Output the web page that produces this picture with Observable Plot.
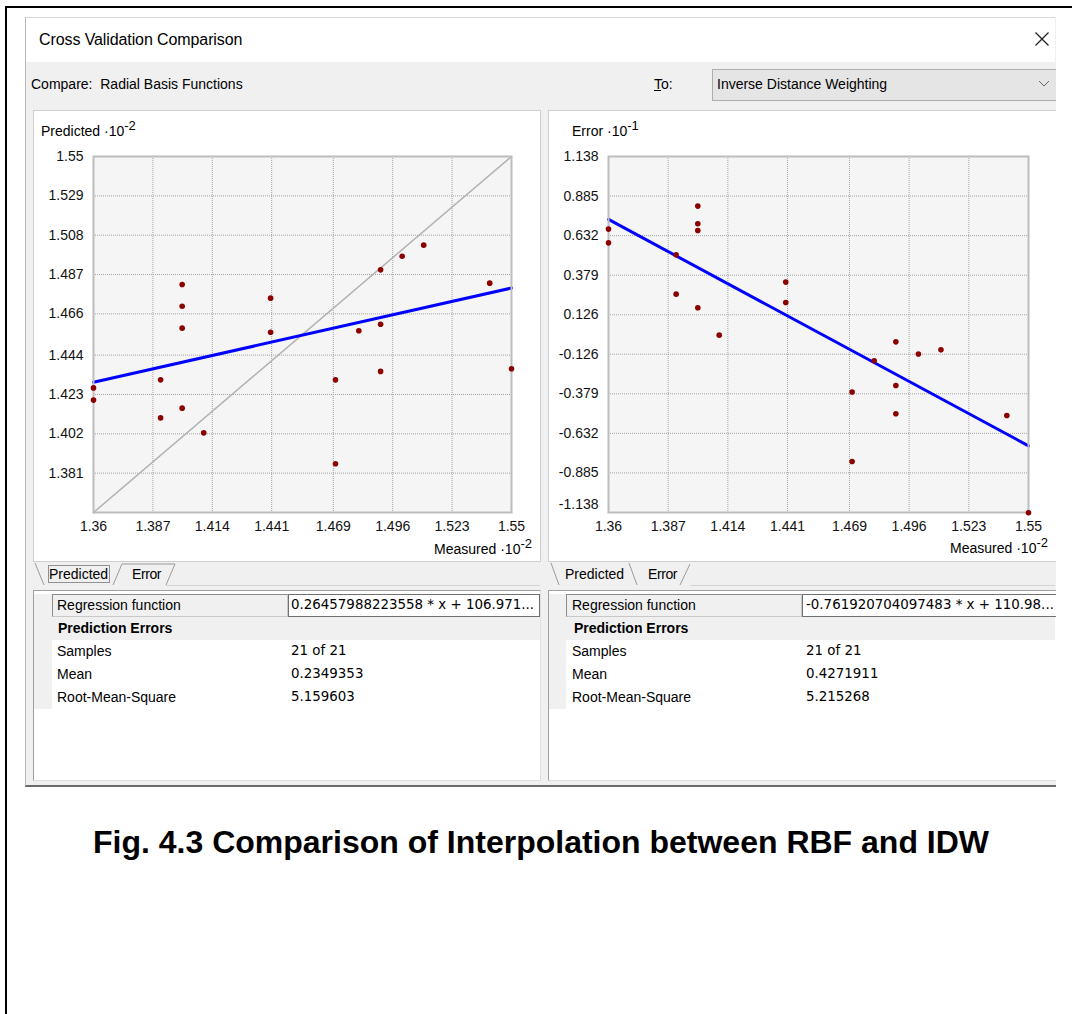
<!DOCTYPE html>
<html>
<head>
<meta charset="utf-8">
<script src="https://cdn.jsdelivr.net/npm/d3@7"></script>
<script src="https://cdn.jsdelivr.net/npm/@observablehq/plot@0.6"></script>
<style>
  body { margin: 0; background: #fff; font-family: "Liberation Sans", Arial, sans-serif; color: #000; }
  #page { position: relative; width: 1072px; height: 1014px; overflow: hidden; }
  .a { position: absolute; white-space: nowrap; }
  .ui { font-size: 14px; line-height: 16px; }
  .val { font-family: "DejaVu Sans", Verdana, sans-serif; font-size: 13.4px; line-height: 16px; }
  sup { font-size: 13px; vertical-align: 0; position: relative; top: -6px; }
</style>
</head>
<body>
<div id="page">
  <!-- outer figure border -->
  <div class="a" style="left:5px;top:6px;width:1100px;height:1100px;border-left:2px solid #000;border-top:2px solid #000;"></div>

  <!-- dialog -->
  <div class="a" style="left:25px;top:17px;width:1030px;height:768px;background:#f0f0f0;border-left:1px solid #b8b8b8;border-bottom:2px solid #6a6a6a;"></div>
  <div class="a" style="left:26px;top:17px;width:1029px;height:44px;background:#fff;border-top:1px solid #d8d8d8;"></div>
  <div class="a" style="left:39px;top:31px;font-size:16px;line-height:18px;letter-spacing:-0.1px;">Cross Validation Comparison</div>
  <svg class="a" style="left:1034px;top:31px;" width="16" height="16"><path d="M1.5,1.5 L14.5,14.5 M14.5,1.5 L1.5,14.5" stroke="#222" stroke-width="1.3"/></svg>

  <div class="a ui" style="left:31px;top:76px;">Compare:&nbsp; Radial Basis Functions</div>
  <div class="a ui" style="left:654px;top:76px;"><u>T</u>o:</div>
  <div class="a" style="left:712px;top:69px;width:350px;height:30px;background:#e5e5e5;border:1px solid #adadad;"></div>
  <div class="a ui" style="left:717px;top:76px;">Inverse Distance Weighting</div>
  <svg class="a" style="left:1038px;top:79px;" width="12" height="10"><path d="M1,2 L6,7 L11,2" fill="none" stroke="#666" stroke-width="1"/></svg>

  <!-- left panel -->
  <div class="a" style="left:33px;top:110px;width:506px;height:450px;background:#fff;border:1px solid #cfcfcf;"></div>
  <div id="plotL" class="a" style="left:33px;top:110px;"></div>
  <div class="a ui" style="left:41px;top:123px;">Predicted ·10<sup>-2</sup></div>
  <div class="a ui" style="left:380px;width:152px;text-align:right;top:541px;">Measured ·10<sup>-2</sup></div>

  <!-- right panel -->
  <div class="a" style="left:548px;top:110px;width:520px;height:450px;background:#fff;border:1px solid #cfcfcf;"></div>
  <div id="plotR" class="a" style="left:548px;top:110px;"></div>
  <div class="a ui" style="left:572px;top:123px;">Error ·10<sup>-1</sup></div>
  <div class="a ui" style="left:896px;width:152px;text-align:right;top:540px;">Measured ·10<sup>-2</sup></div>

  <!-- tab strips -->
  <svg class="a" style="left:0;top:0;" width="1072" height="600">
    <g fill="none" stroke="#9a9a9a" stroke-width="1">
      <path d="M35,563 L44,585"/>
      <path d="M113,585 L122,564 L175,564 L166,585"/>
      <path d="M166,585.5 L540,585.5" stroke="#d4d4d4"/>
      <path d="M551,563 L559,585"/>
      <path d="M629,563 L637,585"/>
      <path d="M680,585 L690,564"/>
      <path d="M690,585.5 L1055,585.5" stroke="#d4d4d4"/>
    </g>
    <rect x="48.5" y="565.5" width="61" height="17" fill="none" stroke="#333" stroke-dasharray="1,1"/>
    <g font-family="Liberation Sans, Arial, sans-serif" font-size="14" fill="#000">
      <text x="49" y="579">Predicted</text>
      <text x="132" y="579" letter-spacing="-0.4">Error</text>
      <text x="565" y="579">Predicted</text>
      <text x="648" y="579" letter-spacing="-0.4">Error</text>
    </g>
  </svg>

  <!-- left table -->
  <div class="a" style="left:33px;top:590px;width:506px;height:189px;background:#fff;border:1px solid #a0a0a0;border-right-color:#e0e0e0;border-bottom-color:#e0e0e0;"></div>
  <div class="a" style="left:34px;top:594px;width:18px;height:115px;background:#f0f0f0;"></div>
  <div class="a" style="left:52px;top:594px;width:234px;height:21px;background:#f0f0f0;border:1px solid #8c8c8c;border-right-color:#c8c8c8;border-bottom-color:#c8c8c8;"></div>
  <div class="a" style="left:288px;top:594px;width:250px;height:21px;background:#fff;border:1px solid #707070;"></div>
  <div class="a" style="left:52px;top:617px;width:488px;height:23px;background:#f0f0f0;"></div>
  <div class="a ui" style="left:57px;top:597px;">Regression function</div>
  <div class="a val" style="left:291px;top:597px;">0.26457988223558 * x + 106.971...</div>
  <div class="a ui" style="left:58px;top:620px;font-weight:bold;">Prediction Errors</div>
  <div class="a ui" style="left:57px;top:643px;">Samples</div>
  <div class="a val" style="left:291px;top:643px;">21 of 21</div>
  <div class="a ui" style="left:57px;top:666px;">Mean</div>
  <div class="a val" style="left:291px;top:666px;">0.2349353</div>
  <div class="a ui" style="left:57px;top:689px;">Root-Mean-Square</div>
  <div class="a val" style="left:291px;top:689px;">5.159603</div>

  <!-- right table -->
  <div class="a" style="left:548px;top:590px;width:520px;height:189px;background:#fff;border:1px solid #a0a0a0;border-bottom-color:#e0e0e0;"></div>
  <div class="a" style="left:549px;top:594px;width:17px;height:115px;background:#f0f0f0;"></div>
  <div class="a" style="left:566px;top:594px;width:234px;height:21px;background:#f0f0f0;border:1px solid #8c8c8c;border-right-color:#c8c8c8;border-bottom-color:#c8c8c8;"></div>
  <div class="a" style="left:802px;top:594px;width:260px;height:21px;background:#fff;border:1px solid #707070;"></div>
  <div class="a" style="left:566px;top:617px;width:489px;height:23px;background:#f0f0f0;"></div>
  <div class="a ui" style="left:572px;top:597px;">Regression function</div>
  <div class="a val" style="left:806px;top:597px;">-0.761920704097483 * x + 110.98...</div>
  <div class="a ui" style="left:574px;top:620px;font-weight:bold;">Prediction Errors</div>
  <div class="a ui" style="left:572px;top:643px;">Samples</div>
  <div class="a val" style="left:806px;top:643px;">21 of 21</div>
  <div class="a ui" style="left:572px;top:666px;">Mean</div>
  <div class="a val" style="left:806px;top:666px;">0.4271911</div>
  <div class="a ui" style="left:572px;top:689px;">Root-Mean-Square</div>
  <div class="a val" style="left:806px;top:689px;">5.215268</div>

  <!-- cut the screenshot at its right edge -->
  <div class="a" style="left:1056px;top:8px;width:20px;height:790px;background:#fff;"></div>

  <!-- caption -->
  <div class="a" style="left:0;width:1082px;text-align:center;top:824px;font-size:32px;line-height:36px;font-weight:bold;">Fig. 4.3 Comparison of Interpolation between RBF and IDW</div>
</div>

<script>
// ---- data ----
const measured = [1.36, 1.36, 1.3905, 1.3905, 1.4003, 1.4003, 1.4003, 1.4003, 1.4101, 1.4405, 1.4405,
                  1.47, 1.47, 1.4806, 1.4905, 1.4905, 1.4905, 1.5003, 1.5101, 1.5401, 1.55];
const rbfPredicted = [1.4265, 1.4200, 1.4308, 1.4105, 1.4817, 1.4701, 1.4584, 1.4157, 1.4025, 1.4744, 1.4562,
                      1.4308, 1.3860, 1.4570, 1.4895, 1.4605, 1.4353, 1.4968, 1.5027, 1.4824, 1.4367];
const idwMeasured = [1.36, 1.36, 1.3906, 1.3906, 1.4004, 1.4004, 1.4004, 1.4004, 1.4101, 1.4402, 1.4402,
                     1.4702, 1.4702, 1.4802, 1.49, 1.49, 1.49, 1.5002, 1.5104, 1.5402, 1.55];
const idwError = [0.674, 0.586, 0.510, 0.258, 0.821, 0.708, 0.665, 0.171, -0.004, 0.335, 0.205,
                  -0.368, -0.812, -0.168, -0.047, -0.326, -0.507, -0.125, -0.098, -0.518, -1.140];

const xTicks = [1.36, 1.387, 1.414, 1.441, 1.469, 1.496, 1.523, 1.55];
const predTicks = [1.55, 1.529, 1.508, 1.487, 1.466, 1.444, 1.423, 1.402, 1.381];
const errTicks = [1.138, 0.885, 0.632, 0.379, 0.126, -0.126, -0.379, -0.632, -0.885];
const errBottomTick = [-1.138];

const xDomain = [1.36, 1.55];
const predDomain = [1.36, 1.55];
const errDomain = [-1.138, 1.138];

// regression functions shown in the tables (x in measured units ×10^2)
const rbfSlope = 0.26457988223558, rbfIntercept = 106.971;
const idwSlope = -0.761920704097483, idwIntercept = 110.98;

// ---- build tables for the marks ----
const rbfPts = measured.map((m, i) => ({m, v: rbfPredicted[i]}));
const idwPts = idwMeasured.map((m, i) => ({m, v: idwError[i]}));
const rbfLine = xDomain.map(m => ({m, v: (rbfSlope * m * 100 + rbfIntercept) / 100}));
const idwLine = xDomain.map(m => ({m, v: (idwSlope * m * 100 + idwIntercept) / 10}));
const diag = xDomain.map(m => ({m, v: m}));

const gridStyle = {stroke: "#a2a2a2", strokeDasharray: "1,1", strokeWidth: 1};
const baseStyle = {fontFamily: "Liberation Sans, Arial, sans-serif", fontSize: "14px", background: "transparent", color: "#111", overflow: "visible"};

const left = Plot.plot({
  width: 507, height: 451,
  marginLeft: 60, marginRight: 29, marginTop: 46, marginBottom: 49,
  style: baseStyle,
  x: {domain: xDomain, ticks: xTicks, tickFormat: d => String(d), tickSize: 0, tickPadding: 9, label: null},
  y: {domain: predDomain, ticks: predTicks, tickFormat: d => String(d), tickSize: 0, tickPadding: 10, label: null},
  marks: [
    Plot.frame({fill: "#f5f5f5", stroke: null}),
    Plot.ruleX(xTicks.slice(1, -1), gridStyle),
    Plot.ruleY(predTicks.slice(1), gridStyle),
    Plot.line(diag, {x: "m", y: "v", stroke: "#b2b2b2", strokeWidth: 1.5}),
    Plot.line(rbfLine, {x: "m", y: "v", stroke: "#0000ff", strokeWidth: 3}),
    Plot.frame({stroke: "#bdbdbd", strokeWidth: 2}),
    Plot.dot(rbfPts, {x: "m", y: "v", r: 2.8, fill: "#8b0000", stroke: null})
  ]
});
document.getElementById("plotL").appendChild(left);

const right = Plot.plot({
  width: 507, height: 451,
  marginLeft: 60, marginRight: 27, marginTop: 46, marginBottom: 49,
  style: baseStyle,
  x: {domain: xDomain, ticks: xTicks, tickFormat: d => String(d), tickSize: 0, tickPadding: 9, label: null},
  y: {domain: errDomain, ticks: errTicks, tickFormat: d => String(d), tickSize: 0, tickPadding: 10, label: null},
  marks: [
    Plot.frame({fill: "#f5f5f5", stroke: null}),
    Plot.ruleX(xTicks.slice(1, -1), gridStyle),
    Plot.ruleY(errTicks.slice(1), gridStyle),
    Plot.line(idwLine, {x: "m", y: "v", stroke: "#0000ff", strokeWidth: 3}),
    Plot.frame({stroke: "#bdbdbd", strokeWidth: 2}),
    Plot.dot(idwPts, {x: "m", y: "v", r: 2.8, fill: "#8b0000", stroke: null}),
    Plot.text(errBottomTick, {y: d => d, text: d => String(d), frameAnchor: "left", textAnchor: "end", dx: -10, dy: -8, fill: "#111"})
  ]
});
document.getElementById("plotR").appendChild(right);
</script>
</body>
</html>
